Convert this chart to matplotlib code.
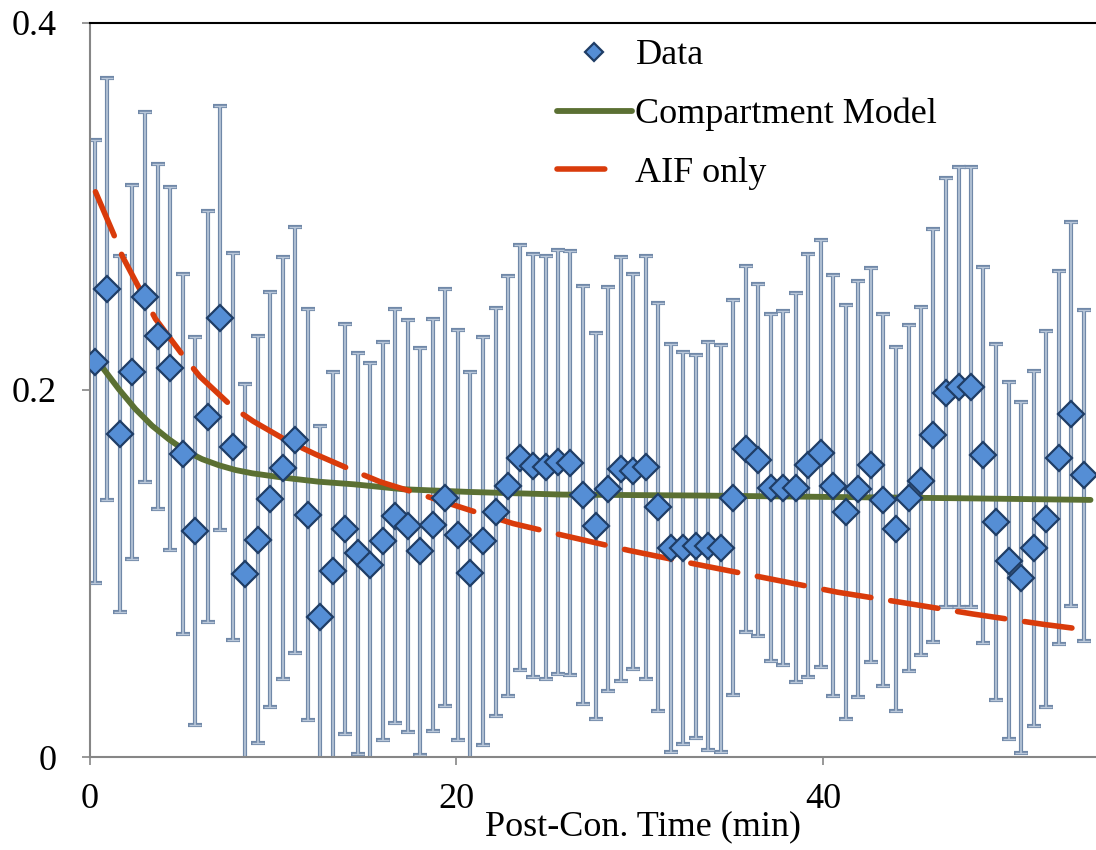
import matplotlib
matplotlib.use('Agg')
from matplotlib import pyplot as plt

plt.rcParams['font.family'] = ['Liberation Serif', 'DejaVu Serif']

### 資料 (從圖上讀出來的值)
t_data = [0.27, 0.95, 1.64, 2.32, 3.00, 3.69, 4.37, 5.05, 5.73, 6.42,
          7.10, 7.78, 8.47, 9.15, 9.83, 10.52, 11.20, 11.88, 12.56, 13.25,
          13.93, 14.61, 15.30, 15.98, 16.66, 17.35, 18.03, 18.71, 19.39, 20.08,
          20.76, 21.44, 22.13, 22.81, 23.49, 24.18, 24.86, 25.54, 26.22, 26.91,
          27.59, 28.27, 28.96, 29.64, 30.32, 31.01, 31.69, 32.37, 33.05, 33.74,
          34.42, 35.10, 35.79, 36.47, 37.15, 37.84, 38.52, 39.20, 39.88, 40.57,
          41.25, 41.93, 42.62, 43.30, 43.98, 44.67, 45.35, 46.03, 46.71, 47.40,
          48.08, 48.76, 49.45, 50.13, 50.81, 51.50, 52.18, 52.86, 53.54, 54.23]

y_data = [0.2155, 0.2551, 0.176, 0.2098, 0.2506, 0.2293, 0.2118, 0.165, 0.1233, 0.1855,
          0.2393, 0.1692, 0.0995, 0.1185, 0.1404, 0.1574, 0.1727, 0.132, 0.0764, 0.1015,
          0.1242, 0.111, 0.1045, 0.1177, 0.1313, 0.1258, 0.112, 0.1264, 0.1414, 0.1211,
          0.1004, 0.1177, 0.1333, 0.1477, 0.163, 0.1587, 0.1579, 0.1609, 0.1603, 0.1427,
          0.1258, 0.1461, 0.1571, 0.1556, 0.1578, 0.1362, 0.1137, 0.1137, 0.1148, 0.1148,
          0.1137, 0.1413, 0.1677, 0.1618, 0.1468, 0.1468, 0.1468, 0.1589, 0.1655, 0.1479,
          0.1335, 0.1461, 0.1589, 0.1401, 0.124, 0.141, 0.1505, 0.1752, 0.1986, 0.2015,
          0.2015, 0.1644, 0.128, 0.107, 0.0978, 0.1137, 0.1298, 0.1631, 0.1869, 0.1534]

y_err = [0.1207, 0.115, 0.097, 0.102, 0.1007, 0.094, 0.099, 0.098, 0.1057, 0.112,
         0.1157, 0.1055, 0.1035, 0.111, 0.113, 0.115, 0.116, 0.112, 0.104, 0.1085,
         0.1119, 0.1093, 0.110, 0.1085, 0.1127, 0.1121, 0.1109, 0.1123, 0.1137, 0.1118,
         0.1094, 0.1113, 0.1111, 0.1142, 0.1158, 0.1152, 0.1153, 0.1155, 0.1155, 0.114,
         0.105, 0.11, 0.1155, 0.1075, 0.1153, 0.1113, 0.1112, 0.1068, 0.1045, 0.1112,
         0.111, 0.1076, 0.0996, 0.0957, 0.0944, 0.0964, 0.106, 0.1153, 0.1163, 0.1147,
         0.113, 0.1133, 0.1073, 0.1012, 0.0992, 0.0943, 0.0949, 0.1125, 0.117, 0.12,
         0.12, 0.1024, 0.0969, 0.0973, 0.0955, 0.0966, 0.1026, 0.1017, 0.1048, 0.09]

### Compartment Model 曲線
t_model = [0.27, 0.57, 1.57, 2.48, 3.39, 4.30, 5.21, 6.12, 7.03, 7.94, 8.85, 10.49, 12.5,
           14.4, 17.1, 20.8, 25.8, 33.0, 40.5, 47.5, 54.6]
y_model = [0.2164, 0.2137, 0.2005, 0.1896, 0.1805, 0.1732, 0.1668, 0.1623, 0.159, 0.1564,
           0.1546, 0.1523, 0.150, 0.1486, 0.1459, 0.1444, 0.143, 0.1425, 0.1417, 0.141, 0.1401]

### AIF only 曲線
t_aif = [0.3, 1.3, 1.76, 2.75, 3.57, 5.12, 6.0, 7.8, 8.9, 10.76, 12.3, 14.61, 15.85, 18.21, 20.76,
         23.1, 25.6, 29.4, 33.2, 36.9, 40.8, 44.5, 48.2, 52.1, 54.6]
y_aif = [0.308, 0.2847, 0.273, 0.2543, 0.2388, 0.2182, 0.2073, 0.1905, 0.183, 0.1723, 0.165, 0.155,
         0.1499, 0.1426, 0.1344, 0.1272, 0.1213, 0.1126, 0.1048, 0.0975, 0.0898, 0.0839, 0.0779,
         0.0722, 0.069]

x_ticks = [0, 20, 40]
y_ticks = [0, 0.2, 0.4]
y_ticklabels = ['0', '0.2', '0.4']

fig = plt.figure(figsize=(10.96, 8.5), dpi=100)
ax = fig.add_axes([0.0821, 0.1094, 0.9179, 0.8636])

### error bar (外框深色, 中間淺色)
ax.errorbar(t_data, y_data, yerr=y_err, fmt='none', ecolor='#7088a8', elinewidth=3.0,
            capsize=5, capthick=3.0, zorder=2)
ax.errorbar(t_data, y_data, yerr=y_err, fmt='none', ecolor='#bac8da', elinewidth=1.2,
            capsize=4.4, capthick=1.0, zorder=2.1)

ax.plot(t_model, y_model, color='#5b7033', lw=4.2, solid_capstyle='round', zorder=3,
        label='Compartment Model')
ax.plot(t_aif, y_aif, color='#d93b0b', lw=4, dashes=(8.6, 3.6), dash_capstyle='round',
        zorder=3, label='AIF only')
ax.plot(t_data, y_data, linestyle='none', marker='D', markersize=13.5,
        markerfacecolor='#558ed5', markeredgecolor='#1f3d66', markeredgewidth=1.6,
        zorder=4, label='Data')

ax.set_xlim(0, 54.9)
ax.set_ylim(0, 0.4)
ax.set_xticks(x_ticks)
ax.set_xticklabels([str(v) for v in x_ticks])
ax.set_yticks(y_ticks)
ax.set_yticklabels(y_ticklabels)
ax.tick_params(axis='both', direction='out', length=6, width=1.2, color='#868686',
               labelsize=26)
ax.tick_params(axis='x', pad=13)
ax.tick_params(axis='y', pad=18)

for s in ['left', 'bottom']:
    ax.spines[s].set_color('#868686')
    ax.spines[s].set_linewidth(1.5)
ax.spines['top'].set_color('black')
ax.spines['top'].set_linewidth(1.5)
ax.spines['right'].set_visible(False)

ax.set_xlabel('Post-Con. Time (min)', fontsize=26)
ax.xaxis.set_label_coords(0.55, -0.072)

h, l = ax.get_legend_handles_labels()
order = [2, 0, 1]
leg = ax.legend([h[i] for i in order], [l[i] for i in order], loc='upper left',
                bbox_to_anchor=(0.464, 0.978), frameon=False, fontsize=26, markerscale=0.65,
                handlelength=2.08, handletextpad=0.1, labelspacing=0.70, borderpad=0,
                borderaxespad=0)
# 圖例裡的 AIF 只顯示一段虛線
leg.get_lines()[2].set_dashes((8.6, 30))

fig.savefig('out.png', dpi=100)
